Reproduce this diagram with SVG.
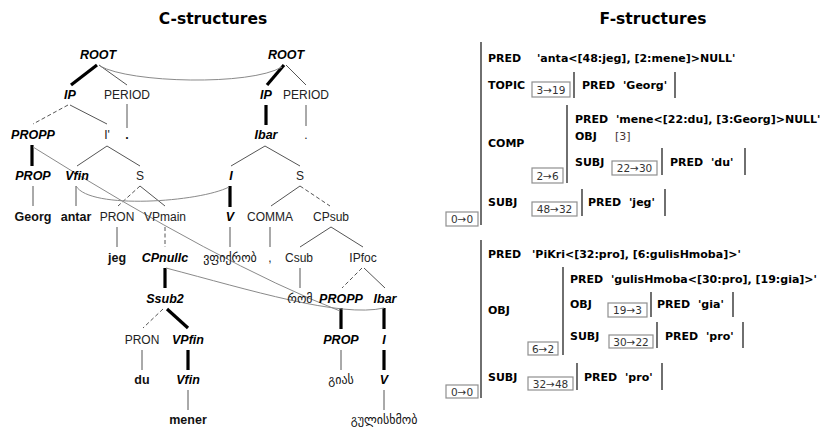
<svg xmlns="http://www.w3.org/2000/svg" width="833" height="431" viewBox="0 0 833 431">
<style>
.title{font-family:"DejaVu Sans",Verdana,sans-serif;font-weight:bold;font-size:15.5px;text-anchor:middle;fill:#000}
.n{font-family:"Liberation Sans",Arial,sans-serif;font-size:12px;text-anchor:middle;fill:#222}
.nb{font-family:"Liberation Sans",Arial,sans-serif;font-size:12.5px;font-weight:bold;font-style:italic;text-anchor:middle;fill:#000}
.w{font-family:"Liberation Sans",Arial,sans-serif;font-size:12.5px;font-weight:bold;text-anchor:middle;fill:#111}
.g{font-family:"DejaVu Sans",sans-serif;font-size:12px;text-anchor:middle;fill:#111}
.th{stroke:#555;stroke-width:1;fill:none}
.tk{stroke:#000;stroke-width:3.2;fill:none}
.da{stroke:#555;stroke-width:1;stroke-dasharray:4 2.5;fill:none}
.cor{stroke:#8a8a8a;stroke-width:1;fill:none}
.f{font-family:"DejaVu Sans",Verdana,sans-serif;font-size:11px;font-weight:bold;fill:#000}
.fr{font-family:"DejaVu Sans",Verdana,sans-serif;font-size:11px;fill:#433}
.bx{fill:#fff;stroke:#8f8f8f;stroke-width:1.2}
.bt{font-family:"DejaVu Sans",Verdana,sans-serif;font-size:10.5px;fill:#333;text-anchor:middle}
.bar{stroke:#222;stroke-width:1.3}
</style>
<text class="title" x="213" y="24">C-structures</text>
<text class="title" x="653" y="24">F-structures</text>

<g id="connectors">
<!-- left tree -->
<line class="tk" x1="97" y1="65" x2="71" y2="85"/>
<line class="th" x1="99" y1="65" x2="127" y2="85"/>
<line class="da" x1="68" y1="105" x2="33" y2="124"/>
<line class="th" x1="70" y1="105" x2="107" y2="124"/>
<line class="th" x1="127" y1="104" x2="127" y2="128"/>
<line class="tk" x1="32" y1="145" x2="32" y2="166"/>
<line class="th" x1="107" y1="146" x2="77" y2="166"/>
<line class="th" x1="107" y1="146" x2="140" y2="166"/>
<line class="th" x1="33" y1="186" x2="33" y2="206"/>
<line class="th" x1="76" y1="186" x2="76" y2="206"/>
<line class="da" x1="140" y1="186" x2="118" y2="206"/>
<line class="th" x1="140" y1="186" x2="165" y2="206"/>
<line class="th" x1="117" y1="227" x2="117" y2="247"/>
<line class="da" x1="165" y1="227" x2="165" y2="247"/>
<line class="tk" x1="165" y1="268" x2="165" y2="288"/>
<line class="da" x1="163" y1="309" x2="143" y2="328"/>
<line class="tk" x1="167" y1="309" x2="188" y2="328"/>
<line class="th" x1="142" y1="350" x2="142" y2="370"/>
<line class="tk" x1="188" y1="350" x2="188" y2="370"/>
<line class="th" x1="188" y1="390" x2="188" y2="410"/>
<!-- right tree -->
<line class="tk" x1="284" y1="65" x2="267" y2="85"/>
<line class="th" x1="286" y1="65" x2="306" y2="85"/>
<line class="tk" x1="266" y1="105" x2="266" y2="125"/>
<line class="th" x1="306" y1="105" x2="306" y2="126"/>
<line class="th" x1="265" y1="146" x2="231" y2="166"/>
<line class="th" x1="265" y1="146" x2="300" y2="166"/>
<line class="tk" x1="230" y1="186" x2="230" y2="207"/>
<line class="th" x1="300" y1="186" x2="271" y2="206"/>
<line class="da" x1="300" y1="186" x2="330" y2="206"/>
<line class="th" x1="230" y1="227" x2="230" y2="247"/>
<line class="th" x1="270" y1="227" x2="270" y2="247"/>
<line class="th" x1="331" y1="227" x2="300" y2="247"/>
<line class="th" x1="331" y1="227" x2="363" y2="247"/>
<line class="th" x1="300" y1="268" x2="300" y2="288"/>
<line class="da" x1="362" y1="268" x2="342" y2="288"/>
<line class="th" x1="364" y1="268" x2="385" y2="288"/>
<line class="tk" x1="341" y1="308" x2="341" y2="329"/>
<line class="tk" x1="384" y1="308" x2="384" y2="329"/>
<line class="th" x1="341" y1="350" x2="341" y2="370"/>
<line class="tk" x1="384" y1="350" x2="384" y2="370"/>
<line class="th" x1="384" y1="390" x2="384" y2="410"/>
<!-- correspondences -->
<path class="cor" d="M100 66 C130 83, 250 86, 282 67"/>
<path class="cor" d="M76 186 C90 210, 200 202, 229 187"/>
<path class="cor" d="M33 147 Q220 264 340 311"/>
<path class="cor" d="M166 268 C250 290, 340 318, 384 308"/>
</g>

<g id="c-left">
<g id="ROOT1"><text class="nb" x="98" y="59">ROOT</text></g>
<g id="IP1"><text class="nb" x="70" y="99">IP</text></g>
<g id="PERIOD1"><text class="n" x="127" y="99">PERIOD</text></g>
<g id="PROPP1"><text class="nb" x="33" y="139">PROPP</text></g>
<g id="Ibar1"><text class="n" x="107" y="139">I'</text></g>
<g id="dot1"><text class="w" x="127" y="139">.</text></g>
<g id="PROP1"><text class="nb" x="33" y="180">PROP</text></g>
<g id="Vfin1"><text class="nb" x="77" y="180">Vfin</text></g>
<g id="S1"><text class="n" x="140" y="180">S</text></g>
<g id="Georg"><text class="w" x="33" y="221">Georg</text></g>
<g id="antar"><text class="w" x="76" y="221">antar</text></g>
<g id="PRON1"><text class="n" x="117" y="221">PRON</text></g>
<g id="VPmain"><text class="n" x="165" y="221">VPmain</text></g>
<g id="jeg"><text class="w" x="117" y="262">jeg</text></g>
<g id="CPnullc"><text class="nb" x="165" y="262">CPnullc</text></g>
<g id="Ssub2"><text class="nb" x="165" y="303">Ssub2</text></g>
<g id="PRON2"><text class="n" x="142" y="344">PRON</text></g>
<g id="VPfin"><text class="nb" x="188" y="344">VPfin</text></g>
<g id="du"><text class="w" x="142" y="384">du</text></g>
<g id="Vfin2"><text class="nb" x="188" y="384">Vfin</text></g>
<g id="mener"><text class="w" x="188" y="424">mener</text></g>
</g>

<g id="c-right">
<g id="ROOT2"><text class="nb" x="286" y="59">ROOT</text></g>
<g id="IP2"><text class="nb" x="266" y="99">IP</text></g>
<g id="PERIOD2"><text class="n" x="306" y="99">PERIOD</text></g>
<g id="Ibar2"><text class="nb" x="266" y="139">Ibar</text></g>
<g id="dot2"><text class="n" x="306" y="139">.</text></g>
<g id="I2"><text class="nb" x="231" y="180">I</text></g>
<g id="S2"><text class="n" x="300" y="180">S</text></g>
<g id="V2"><text class="nb" x="230" y="221">V</text></g>
<g id="COMMA"><text class="n" x="270" y="221">COMMA</text></g>
<g id="CPsub"><text class="n" x="331" y="221">CPsub</text></g>
<g id="vpikrob"><text class="g" x="230" y="262">ვფიქრობ</text></g>
<g id="comma"><text class="n" x="270" y="262">,</text></g>
<g id="Csub"><text class="n" x="299" y="262">Csub</text></g>
<g id="IPfoc"><text class="n" x="363" y="262">IPfoc</text></g>
<g id="rom"><text class="g" x="300" y="303">რომ</text></g>
<g id="PROPP2"><text class="nb" x="341" y="303">PROPP</text></g>
<g id="Ibar3"><text class="nb" x="385" y="303">Ibar</text></g>
<g id="PROP2"><text class="nb" x="341" y="344">PROP</text></g>
<g id="I3"><text class="nb" x="384" y="344">I</text></g>
<g id="gias"><text class="g" x="341" y="384">გიას</text></g>
<g id="V3"><text class="nb" x="384" y="384">V</text></g>
<g id="gulisxmob"><text class="g" x="384" y="424">გულისხმობ</text></g>
</g>

<g id="fs1">
<line class="bar" x1="481" y1="42" x2="481" y2="225"/>
<rect class="bx" x="446" y="212" width="32" height="14"/><text class="bt" x="462" y="223">0→0</text>
<text class="f" x="488" y="62">PRED</text><text class="f" x="537" y="62">'anta&lt;[48:jeg], [2:mene]&gt;NULL'</text>
<g id="fs1-topic">
<text class="f" x="488" y="89">TOPIC</text>
<rect class="bx" x="532" y="82" width="38" height="15"/><text class="bt" x="551" y="94">3→19</text>
<line class="bar" x1="574" y1="72" x2="574" y2="98"/>
<text class="f" x="582" y="89">PRED</text><text class="f" x="623" y="89">'Georg'</text>
<line class="bar" x1="675" y1="72" x2="675" y2="98"/>
</g>
<g id="fs1-comp">
<text class="f" x="488" y="147">COMP</text>
<rect class="bx" x="532" y="168" width="31" height="15"/><text class="bt" x="547.5" y="180">2→6</text>
<line class="bar" x1="567" y1="105" x2="567" y2="183"/>
<text class="f" x="575" y="123">PRED</text><text class="f" x="616" y="123">'mene&lt;[22:du], [3:Georg]&gt;NULL'</text>
<text class="f" x="575" y="140">OBJ</text><text class="fr" x="615" y="140">[3]</text>
<text class="f" x="575" y="166">SUBJ</text>
<rect class="bx" x="612" y="161" width="45" height="14"/><text class="bt" x="634.5" y="172">22→30</text>
<line class="bar" x1="662" y1="148" x2="662" y2="175"/>
<text class="f" x="670" y="166">PRED</text><text class="f" x="711" y="166">'du'</text>
<line class="bar" x1="745" y1="148" x2="745" y2="175"/>
</g>
<g id="fs1-subj">
<text class="f" x="488" y="206">SUBJ</text>
<rect class="bx" x="532" y="202" width="45" height="14"/><text class="bt" x="554.5" y="213">48→32</text>
<line class="bar" x1="582" y1="189" x2="582" y2="216"/>
<text class="f" x="588" y="206">PRED</text><text class="f" x="629" y="206">'jeg'</text>
<line class="bar" x1="665" y1="189" x2="665" y2="216"/>
</g>
</g>

<g id="fs2">
<line class="bar" x1="481" y1="240" x2="481" y2="398"/>
<rect class="bx" x="446" y="385" width="32" height="13"/><text class="bt" x="462" y="395.5">0→0</text>
<text class="f" x="488" y="258">PRED</text><text class="f" x="532" y="258">'PiKri&lt;[32:pro], [6:gulisHmoba]&gt;'</text>
<g id="fs2-obj">
<text class="f" x="488" y="314">OBJ</text>
<rect class="bx" x="528" y="342" width="30" height="13"/><text class="bt" x="543" y="352.5">6→2</text>
<line class="bar" x1="563" y1="267" x2="563" y2="355"/>
<text class="f" x="570" y="283">PRED</text><text class="f" x="611" y="283">'gulisHmoba&lt;[30:pro], [19:gia]&gt;'</text>
<text class="f" x="570" y="308">OBJ</text>
<rect class="bx" x="608" y="303" width="39" height="14"/><text class="bt" x="627.5" y="314">19→3</text>
<line class="bar" x1="651" y1="292" x2="651" y2="317"/>
<text class="f" x="657" y="308">PRED</text><text class="f" x="698" y="308">'gia'</text>
<line class="bar" x1="733" y1="292" x2="733" y2="317"/>
<text class="f" x="570" y="340">SUBJ</text>
<rect class="bx" x="609" y="335" width="44" height="13"/><text class="bt" x="631" y="345.5">30→22</text>
<line class="bar" x1="657" y1="322" x2="657" y2="348"/>
<text class="f" x="665" y="340">PRED</text><text class="f" x="706" y="340">'pro'</text>
<line class="bar" x1="743" y1="322" x2="743" y2="348"/>
</g>
<g id="fs2-subj">
<text class="f" x="488" y="381">SUBJ</text>
<rect class="bx" x="528" y="377" width="45" height="13"/><text class="bt" x="550.5" y="387.5">32→48</text>
<line class="bar" x1="577" y1="363" x2="577" y2="390"/>
<text class="f" x="584" y="381">PRED</text><text class="f" x="625" y="381">'pro'</text>
<line class="bar" x1="662" y1="363" x2="662" y2="390"/>
</g>
</g>
</svg>
